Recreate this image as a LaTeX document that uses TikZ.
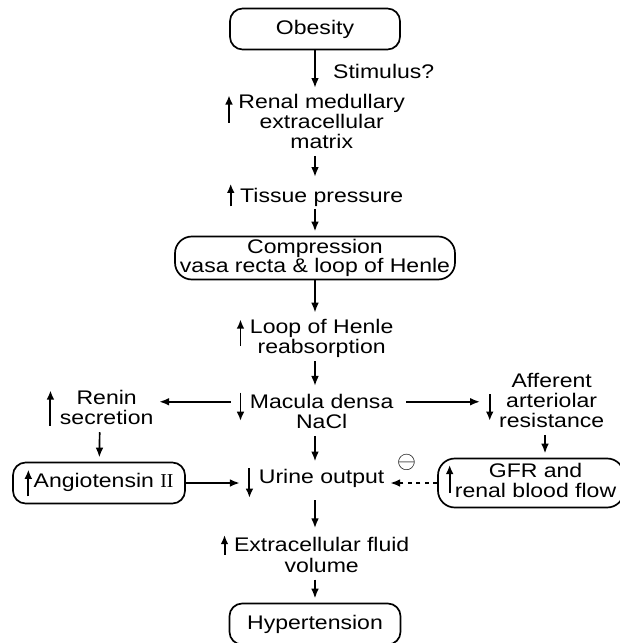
\documentclass[tikz,border=0pt]{standalone}
\usepackage{fontspec}
\setmainfont{Liberation Sans}[FakeStretch=1.17]
\newfontfamily\romannum{Liberation Serif}
\usetikzlibrary{positioning,arrows.meta}

\tikzset{
  flow/.style={-{Latex[length=7pt,width=5.5pt]},line width=1.2pt},
  glyph/.style={-{Latex[length=6.5pt,width=5.5pt]},line width=1.4pt,shorten >=0pt},
  stage/.style={draw,line width=1.2pt,rounded corners=9pt,align=center,
    minimum height=1.025cm,inner sep=1pt},
  effect/.style={inner sep=1pt}
}
% small up/down arrow in front of a text
\newcommand{\trend}[3][4pt]{\tikz[baseline=0pt]\draw[glyph] (0,#2) -- (0,#3);\hspace{#1}}
\newcommand{\lines}[2][t]{\begin{tabular}[#1]{@{}c@{}}#2\end{tabular}}

\begin{document}
\begin{tikzpicture}[shorten >=3pt,on grid,node distance=2cm,font=\fontsize{14}{14}\selectfont]
  \useasboundingbox (-7.875,0.725) rectangle (7.625,-15.35);

  \node[stage,minimum width=4.25cm] (obesity) {Obesity};
  \node[effect] (medulla) [below=2.375cm of obesity] {\trend{-10.5pt}{9pt}\lines{Renal medullary\\extracellular\\matrix}};
  \node[effect] (tissue) [below=1.775cm of medulla] {\trend{-3pt}{13pt}Tissue pressure};
  \node[stage,minimum width=7cm,minimum height=1.075cm,rounded corners=12pt,inner xsep=0pt] (compress) [below=1.575cm of tissue] {Compression\\vasa recta \& loop of Henle};
  \node[effect] (loop) [below=2.025cm of compress] {\trend{-9pt}{10pt}\lines{Loop of Henle\\reabsorption}};
  \node[effect] (macula) [below=1.85cm of loop] {\trend{11pt}{-9pt}\lines{Macula densa\\NaCl}};
  \node[effect] (urine) [below=1.75cm of macula] {\trend{11pt}{-10pt}Urine output};
  \node[effect] (volume) [below=1.825cm of urine] {\trend{-2pt}{12pt}\lines{Extracellular fluid\\volume}};
  \node[stage,minimum width=4.275cm] (hypert) [below=1.7cm of volume] {Hypertension};

  \node[effect] (renin) [left=5.375cm of macula,yshift=0.075cm] {\trend{-15pt}{10pt}\lines{Renin\\secretion}};
  \node[effect] (afferent) [right=5.75cm of macula,yshift=0.25cm] {\trend{10pt}{-9pt}\lines[c]{Afferent\\arteriolar\\resistance}};
  \node[stage,minimum width=4.3cm] (angio) [left=5.4cm of urine] {\trend[1pt]{-6pt}{13pt}Angiotensin {\romannum II}};
  \node[stage,minimum width=4.65cm,minimum height=1.225cm,rounded corners=12pt] (gfr) [right=5.4cm of urine] {\trend[1pt]{3pt}{23pt}\lines[b]{GFR and\\renal blood flow}};

  \path[flow]
    (obesity) edge node[right=9pt] {Stimulus?} (medulla)
    (medulla) edge (tissue)
    (tissue) edge (compress)
    (compress) edge (loop)
    (loop) edge (macula)
    (macula) edge (urine)
    (urine) edge (volume)
    (volume) edge (hypert)
    ([yshift=8pt]macula.west) edge[shorten <=3pt] ([yshift=8pt]macula.west -| renin.east)
    ([yshift=8pt]macula.east) edge[shorten <=8pt] ([yshift=8pt]macula.east -| afferent.west)
    (renin) edge (angio)
    (afferent) edge (afferent |- gfr.north)
    (angio) edge (urine)
    (gfr) edge[dashed] node[above=5pt,pos=0.6] {\LARGE$\ominus$} (urine);
\end{tikzpicture}
\end{document}
